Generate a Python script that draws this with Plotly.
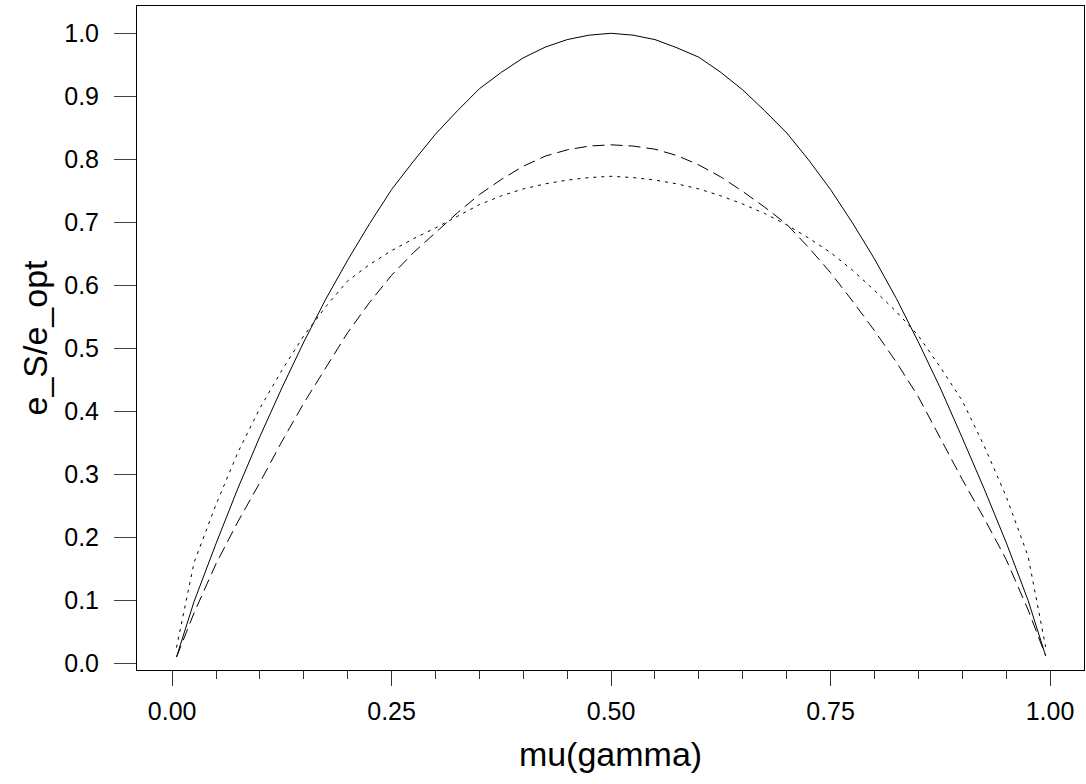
import plotly.graph_objects as go

# x positions (mu(gamma)) at which the curves were read
mu = [0.005, 0.025, 0.05, 0.075, 0.1, 0.125, 0.15, 0.175, 0.2, 0.225,
      0.25, 0.275, 0.3, 0.325, 0.35, 0.375, 0.4, 0.425, 0.45, 0.475,
      0.5, 0.525, 0.55, 0.575, 0.6, 0.625, 0.65, 0.675, 0.7, 0.725,
      0.75, 0.775, 0.8, 0.825, 0.85, 0.875, 0.9, 0.925, 0.95, 0.975, 0.995]

# solid curve
solid = [0.010, 0.098, 0.190, 0.278, 0.360, 0.437, 0.510, 0.578, 0.640, 0.698,
         0.752, 0.797, 0.840, 0.877, 0.912, 0.938, 0.961, 0.978, 0.990, 0.997,
         1.000, 0.997, 0.990, 0.977, 0.962, 0.938, 0.910, 0.877, 0.842, 0.799,
         0.752, 0.699, 0.642, 0.579, 0.510, 0.437, 0.358, 0.277, 0.192, 0.100, 0.012]

# dashed curve
dashed = [0.010, 0.080, 0.158, 0.225, 0.287, 0.352, 0.413, 0.470, 0.525, 0.573,
          0.616, 0.652, 0.684, 0.715, 0.744, 0.768, 0.789, 0.805, 0.815, 0.821,
          0.823, 0.821, 0.816, 0.806, 0.791, 0.772, 0.749, 0.724, 0.697, 0.660,
          0.620, 0.575, 0.528, 0.478, 0.423, 0.358, 0.292, 0.230, 0.165, 0.085, 0.012]

# dotted curve
dotted = [0.025, 0.160, 0.252, 0.335, 0.405, 0.465, 0.520, 0.566, 0.607, 0.633,
          0.655, 0.674, 0.691, 0.710, 0.728, 0.742, 0.753, 0.761, 0.767, 0.771,
          0.773, 0.771, 0.767, 0.761, 0.753, 0.742, 0.729, 0.714, 0.696, 0.675,
          0.652, 0.624, 0.592, 0.558, 0.520, 0.470, 0.417, 0.345, 0.265, 0.170, 0.026]

x_tickvals = [0.0, 0.25, 0.5, 0.75, 1.0]
y_tickvals = [0.0, 0.1, 0.2, 0.3, 0.4, 0.5, 0.6, 0.7, 0.8, 0.9, 1.0]

fig = go.Figure()
fig.add_trace(go.Scatter(x=mu, y=solid, mode="lines", name="solid",
                         line=dict(color="black", width=1)))
fig.add_trace(go.Scatter(x=mu, y=dashed, mode="lines", name="dashed",
                         line=dict(color="black", width=1, dash="12px,6px")))
fig.add_trace(go.Scatter(x=mu, y=dotted, mode="lines", name="dotted",
                         line=dict(color="black", width=1, dash="3px,5px")))

font = "Liberation Sans, Arial, sans-serif"
fig.update_layout(
    width=1086, height=784,
    margin=dict(l=137, r=2, t=6, b=114),
    paper_bgcolor="white", plot_bgcolor="white",
    showlegend=False,
    font=dict(family=font, color="black", size=25),
    xaxis=dict(
        automargin=False,
        range=[-0.04, 1.0387], showgrid=False, zeroline=False,
        showline=True, mirror=True, linecolor="black", linewidth=1,
        tickvals=x_tickvals, tickformat=".2f",
        ticks="outside", ticklen=15, tickcolor="#333", tickwidth=1,
        minor=dict(dtick=0.05, tick0=0, ticks="outside", ticklen=8,
                   tickcolor="#333", tickwidth=1, showgrid=False),
        tickfont=dict(size=25, family=font, color="black"),
        ticklabelstandoff=4,
        title=dict(text="mu(gamma)", font=dict(size=34, family=font, color="black"),
                   standoff=18),
    ),
    yaxis=dict(
        automargin=False,
        range=[-0.0106, 1.0433], showgrid=False, zeroline=False,
        showline=True, mirror=True, linecolor="black", linewidth=1,
        tickvals=y_tickvals, tickformat=".1f",
        ticks="outside", ticklen=22, tickcolor="#444", tickwidth=1,
        tickfont=dict(size=25, family=font, color="black"),
        ticklabelstandoff=10,
        title=dict(text="e_S/e_opt", font=dict(size=34, family=font, color="black"),
                   standoff=6),
    ),
)

fig.write_html(
    "out.html",
    config={"displayModeBar": False},
    post_script="document.body.style.margin='0';document.body.style.overflow='hidden';",
)
